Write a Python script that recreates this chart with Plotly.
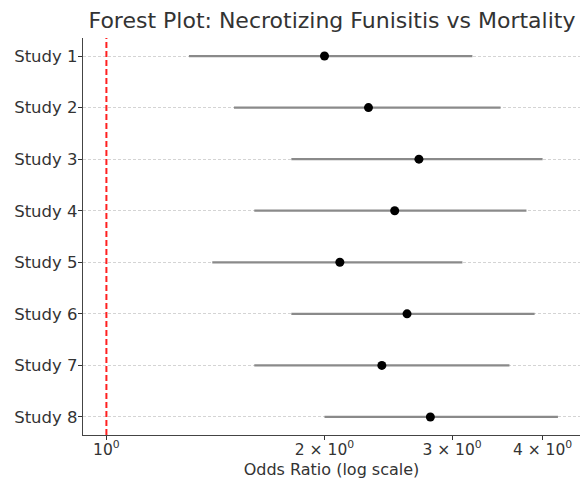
import plotly.graph_objects as go

studies = ["Study 1", "Study 2", "Study 3", "Study 4", "Study 5", "Study 6", "Study 7", "Study 8"]
odds_ratio = [2.0, 2.3, 2.7, 2.5, 2.1, 2.6, 2.4, 2.8]
ci_lower = [1.3, 1.5, 1.8, 1.6, 1.4, 1.8, 1.6, 2.0]
ci_upper = [3.2, 3.5, 4.0, 3.8, 3.1, 3.9, 3.6, 4.2]
x_tick_vals = [1, 2, 3, 4]
x_tick_text = ["10<sup>0</sup>", "2 × 10<sup>0</sup>", "3 × 10<sup>0</sup>", "4 × 10<sup>0</sup>"]

FONT = "DejaVu Sans"
TXT = "#333333"

seg_x, seg_y = [], []
for s, lo, hi in zip(studies, ci_lower, ci_upper):
    seg_x += [lo, hi, None]
    seg_y += [s, s, None]

fig = go.Figure()
fig.add_trace(go.Scatter(x=seg_x, y=seg_y, mode="lines",
                         line=dict(color="#8a8a8a", width=2.2),
                         hoverinfo="skip", showlegend=False))
fig.add_trace(go.Scatter(x=odds_ratio, y=studies, mode="markers",
                         marker=dict(color="black", size=9),
                         showlegend=False))

fig.add_shape(type="line", xref="x", yref="paper", x0=1, x1=1, y0=0, y1=1,
              line=dict(color="#ff2020", width=2, dash="6px,3px"))

fig.update_layout(
    width=583, height=479,
    margin=dict(l=83, r=3, t=38, b=44),
    paper_bgcolor="white", plot_bgcolor="white",
    font=dict(family=FONT, color=TXT, size=16),
    title=dict(text="Forest Plot: Necrotizing Funisitis vs Mortality",
               x=0.5695, xanchor="center", y=0.957, yanchor="middle",
               font=dict(size=22, color=TXT, family=FONT)),
)
fig.update_xaxes(type="log", range=[-0.0323, 0.6537], automargin=False,
                 tickvals=x_tick_vals, ticktext=x_tick_text,
                 ticks="outside", ticklen=4, tickcolor=TXT, tickwidth=1,
                 ticklabelstandoff=-4,
                 showgrid=False, zeroline=False,
                 showline=True, linecolor="#444444", linewidth=1.3,
                 tickfont=dict(size=15.5, family=FONT, color=TXT),
                 title=dict(text="Odds Ratio (log scale)", standoff=7,
                            font=dict(size=16, family=FONT, color=TXT)))
fig.update_yaxes(type="category", categoryorder="array", categoryarray=studies,
                 range=[7.35, -0.35], automargin=False,
                 ticks="outside", ticklen=4, tickcolor=TXT, tickwidth=1,
                 ticklabelstandoff=-3,
                 showgrid=True, gridcolor="#d4d4d4", gridwidth=1, griddash="3px,2px",
                 zeroline=False,
                 showline=True, linecolor="#444444", linewidth=1.3,
                 tickfont=dict(size=16.5, family=FONT, color=TXT))

fig.write_html("out.html")
